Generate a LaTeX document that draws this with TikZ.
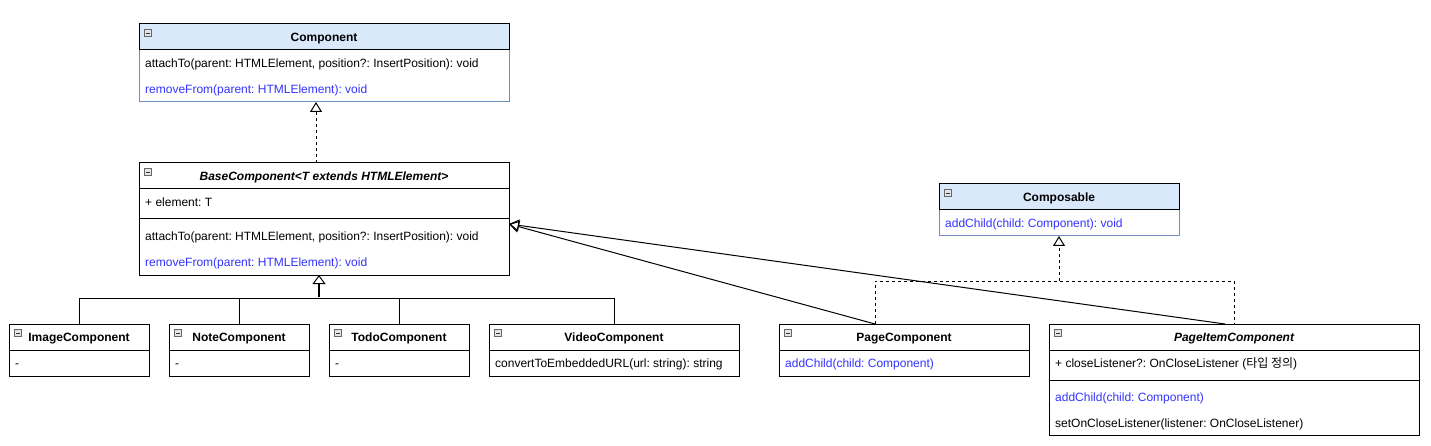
\documentclass[tikz,border=0pt]{standalone}
\usepackage{fontspec}
\setmainfont{Liberation Sans}
\newfontfamily\krfont{Noto Sans CJK KR}
\usetikzlibrary{arrows.meta}
\definecolor{mblue}{RGB}{51,51,255}
\definecolor{hfill}{HTML}{DAE8FC}
\definecolor{hdraw}{HTML}{6C8EBF}
\frenchspacing
\begin{document}
\frenchspacing
\begin{tikzpicture}[x=1pt,y=-1pt,
  font=\fontsize{12}{14}\selectfont\frenchspacing,
  box/.style={draw=black, line width=1pt, anchor=north west, inner sep=0pt, outer sep=0pt, fill=white},
  bluebox/.style={box, draw=hdraw},
  hdr/.style={box, minimum height=26pt},
  txt/.style={inner sep=0pt, text height=9pt, text depth=3pt, yshift=-1.4pt},
  ttl/.style={txt, font=\fontsize{12}{14}\selectfont\bfseries},
  ittl/.style={txt, font=\fontsize{12}{14}\selectfont\bfseries\itshape},
  mem/.style={txt, anchor=west},
  bmem/.style={mem, text=mblue},
  icon/.style={draw=gray!80!black, fill=gray!20, line width=0.6pt, minimum width=7.5pt, minimum height=7pt, inner sep=0pt,
    path picture={\draw[line width=0.8pt,black!80] ([xshift=1.5pt]path picture bounding box.west) -- ([xshift=-1.5pt]path picture bounding box.east);}},
  sep/.style={line width=1pt},
  conn/.style={line width=1pt},
  dash3/.style={dash pattern=on 3pt off 3pt},
  opentri/.style={-{Triangle[open, length=10pt, width=12pt]}},
]
\useasboundingbox (0,0) rectangle (1431,446);
\fill[white] (0,0) rectangle (1431,446);

% ---------- Component ----------
\node[bluebox, minimum width=370pt, minimum height=78pt] (comp) at (139,24) {};
\node[bluebox, hdr, fill=hfill, minimum width=370pt] (comph) at (139,24) {};
\node[icon] (compi) at ([xshift=9pt,yshift=-9pt]comph.north west) {};
\node[ttl] (compt) at (comph.center) {Component};
\node[mem] (comp1) at (145,63) {attachTo(parent: HTMLElement, position?: InsertPosition): void};
\node[bmem] (comp2) at (145,89) {removeFrom(parent: HTMLElement): void};

% ---------- BaseComponent ----------
\node[box, minimum width=370pt, minimum height=112pt] (base) at (139,163) {};
\node[box, hdr, minimum width=370pt] (baseh) at (139,163) {};
\node[icon] (basei) at ([xshift=9pt,yshift=-9pt]baseh.north west) {};
\node[ittl] (baset) at (baseh.center) {BaseComponent<T extends HTMLElement>};
\node[mem] (base0) at (145,202) {+ element: T};
\draw[sep] (base.west |- 0,219) -- (base.east |- 0,219);
\node[mem] (base1) at (145,236) {attachTo(parent: HTMLElement, position?: InsertPosition): void};
\node[bmem] (base2) at (145,262) {removeFrom(parent: HTMLElement): void};

% ---------- small subclasses ----------
\node[box, minimum width=140pt, minimum height=52pt] (img) at (9,324) {};
\node[box, hdr, minimum width=140pt] (imgh) at (9,324) {};
\node[icon] (imgi) at ([xshift=9pt,yshift=-9pt]imgh.north west) {};
\node[ttl] (imgt) at (imgh.center) {ImageComponent};
\node[mem] (img1) at (15,363) {-};

\node[box, minimum width=140pt, minimum height=52pt] (note) at (169,324) {};
\node[box, hdr, minimum width=140pt] (noteh) at (169,324) {};
\node[icon] (notei) at ([xshift=9pt,yshift=-9pt]noteh.north west) {};
\node[ttl] (notet) at (noteh.center) {NoteComponent};
\node[mem] (note1) at (175,363) {-};

\node[box, minimum width=140pt, minimum height=52pt] (todo) at (329,324) {};
\node[box, hdr, minimum width=140pt] (todoh) at (329,324) {};
\node[icon] (todoi) at ([xshift=9pt,yshift=-9pt]todoh.north west) {};
\node[ttl] (todot) at (todoh.center) {TodoComponent};
\node[mem] (todo1) at (335,363) {-};

\node[box, minimum width=250pt, minimum height=52pt] (video) at (489,324) {};
\node[box, hdr, minimum width=250pt] (videoh) at (489,324) {};
\node[icon] (videoi) at ([xshift=9pt,yshift=-9pt]videoh.north west) {};
\node[ttl] (videot) at (videoh.center) {VideoComponent};
\node[mem] (video1) at (495,363) {convertToEmbeddedURL(url: string): string};

% ---------- PageComponent ----------
\node[box, minimum width=250pt, minimum height=52pt] (page) at (779,324) {};
\node[box, hdr, minimum width=250pt] (pageh) at (779,324) {};
\node[icon] (pagei) at ([xshift=9pt,yshift=-9pt]pageh.north west) {};
\node[ttl] (paget) at (pageh.center) {PageComponent};
\node[bmem] (page1) at (785,363) {addChild(child: Component)};

% ---------- PageItemComponent ----------
\node[box, minimum width=370pt, minimum height=111pt] (pitem) at (1049,324) {};
\node[box, hdr, minimum width=370pt] (pitemh) at (1049,324) {};
\node[icon] (pitemi) at ([xshift=9pt,yshift=-9pt]pitemh.north west) {};
\node[ittl] (pitemt) at (pitemh.center) {PageItemComponent};
\node[mem] (pitem0) at (1055,363) {+ closeListener?: OnCloseListener ({\krfont 타입 정의})};
\draw[sep] (pitem.west |- 0,380) -- (pitem.east |- 0,380);
\node[bmem] (pitem1) at (1055,397) {addChild(child: Component)};
\node[mem] (pitem2) at (1055,423) {setOnCloseListener(listener: OnCloseListener)};

% ---------- Composable ----------
\node[bluebox, minimum width=240pt, minimum height=52pt] (compo) at (939,184) {};
\node[bluebox, hdr, fill=hfill, minimum width=240pt] (compoh) at (939,184) {};
\node[icon] (compoi) at ([xshift=9pt,yshift=-9pt]compoh.north west) {};
\node[ttl] (compot) at (compoh.center) {Composable};
\node[bmem] (compo1) at (945,223) {addChild(child: Component): void};

% ---------- connectors ----------
% BaseComponent realizes Component
\draw[conn, dash3, opentri] ([xshift=-8pt]base.north) -- ([xshift=-8pt]comp.south);

% inheritance tree
\draw[conn] (img.north) -- ++(0,-26) -| (video.north);
\draw[conn] (note.north) -- ++(0,-26);
\draw[conn] (todo.north) -- ++(0,-26);
\draw[line width=2pt, -{Triangle[open, length=9pt, width=13pt, line width=1pt]}] ([xshift=-5pt,yshift=-22pt]base.south) -- ([xshift=-5pt]base.south);

% Page / PageItem extend BaseComponent
\draw[conn, opentri] ([xshift=-29pt]page.north) -- ([yshift=-5pt]base.east);
\draw[conn, opentri] ([xshift=-9pt]pitem.north) -- ([yshift=-5pt]base.east);

% realize Composable
\draw[conn, dash3] ([xshift=-29pt]page.north) -- ++(0,-43) -| (pitem.north);
\draw[conn, dash3, opentri] (compo.south |- 0,281) -- (compo.south);
\end{tikzpicture}
\end{document}
